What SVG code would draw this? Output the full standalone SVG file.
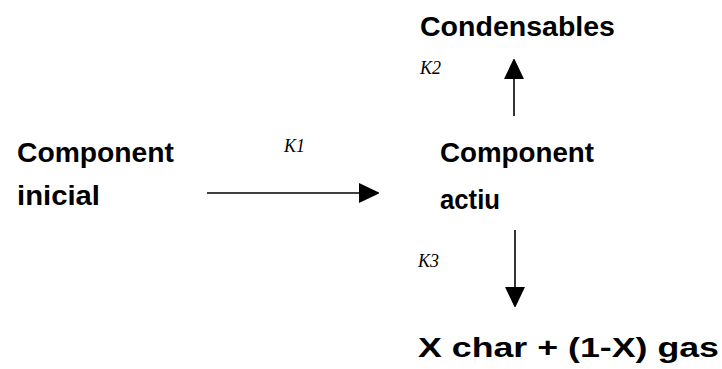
<svg xmlns="http://www.w3.org/2000/svg" width="722" height="369" viewBox="0 0 722 369">
<style>
.n{font-family:"Liberation Sans",Arial,sans-serif;font-weight:bold;font-size:28px;fill:#000}
.k{font-family:"Liberation Serif","Times New Roman",serif;font-style:italic;font-size:18px;fill:#000}
.c{stroke:#000;stroke-width:1.6;fill:none}
</style>
<defs>
<marker id="ah" viewBox="0 0 20 20" refX="0" refY="10" markerWidth="20" markerHeight="20" markerUnits="userSpaceOnUse" orient="auto">
<path d="M0,0 L21,10 L0,20 Z" fill="#000"/>
</marker>
</defs>
<rect width="722" height="369" fill="#fff"/>
<g id="initial">
<text class="n" x="17" y="162" textLength="157" lengthAdjust="spacingAndGlyphs">Component</text>
<text class="n" x="17" y="205" textLength="83" lengthAdjust="spacingAndGlyphs">inicial</text>
</g>
<g id="active">
<text class="n" x="440" y="162" textLength="154" lengthAdjust="spacingAndGlyphs">Component</text>
<text class="n" x="440" y="209" textLength="60" lengthAdjust="spacingAndGlyphs">actiu</text>
</g>
<g id="condensables">
<text class="n" x="420" y="36" textLength="195" lengthAdjust="spacingAndGlyphs">Condensables</text>
</g>
<g id="products">
<text class="n" x="418" y="357" textLength="301" lengthAdjust="spacingAndGlyphs">X char + (1-X) gas</text>
</g>
<g id="connectors">
<line class="c" x1="207" y1="193" x2="359" y2="193" marker-end="url(#ah)"/>
<line class="c" x1="514" y1="116" x2="514" y2="79" marker-end="url(#ah)"/>
<line class="c" x1="515" y1="230" x2="515" y2="287" marker-end="url(#ah)"/>
<text class="k" x="284" y="152">K1</text>
<text class="k" x="420" y="74">K2</text>
<text class="k" x="418" y="267">K3</text>
</g>
</svg>
